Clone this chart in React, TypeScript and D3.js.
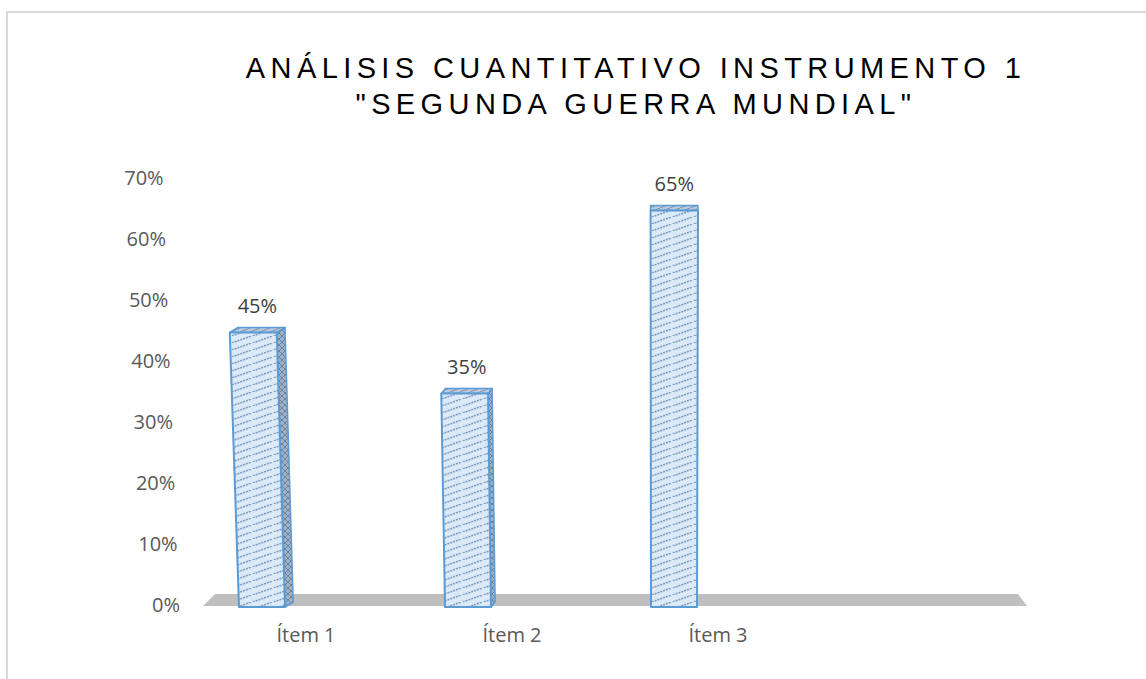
import React from "react";
import * as d3 from "d3";

const categories = ["Ítem 1", "Ítem 2", "Ítem 3", ""];
const values: (number | null)[] = [0.45, 0.35, 0.65, null];
const yTicks = [0, 0.1, 0.2, 0.3, 0.4, 0.5, 0.6, 0.7];
const titleLines = ["ANÁLISIS CUANTITATIVO INSTRUMENTO 1", "\"SEGUNDA GUERRA MUNDIAL\""];

const W = 1146;
const H = 679;
const baseY = 607;
// fake perspective of the 3D chart
const VX = 665;
const SKEW = 7.9e-5;
const warp = (x: number, y: number) => x + (x - VX) * SKEW * (baseY - y);

const App = () => {
  const x = d3.scaleBand<string>().domain(categories).range([203, 1027]);
  const y = d3.scaleLinear().domain([0, 0.7]).range([baseY, 180]);
  const fmt = d3.format(".0%");
  const barW = 46;
  const depthY = -5;

  const floorDepth = 12;
  const [fx0, fx1] = x.range();
  const floor = `M${fx0},${baseY - 1} L${fx1},${baseY - 1} L${fx1 - 9},${baseY - 1 - floorDepth} L${fx0 + 12},${baseY - 1 - floorDepth} Z`;

  const pts = (p: number[][]) => p.map(d => d.join(",")).join(" ");

  return (
    <svg width={W} height={H} style={{ position: "absolute", left: 0, top: 0 }} fontFamily="'Open Sans', sans-serif">
      <defs>
        <pattern id="hatch" width="21" height="7" patternUnits="userSpaceOnUse">
          <rect width="21" height="7" fill="#dce9f7" />
          <path d="M-2,8 L23,-1" stroke="#7b9cc6" strokeWidth="1.6" strokeDasharray="2 1" />
        </pattern>
        <pattern id="hatchDark" width="6" height="6" patternUnits="userSpaceOnUse">
          <rect width="6" height="6" fill="#9fb2c8" />
          <path d="M0,6 L6,0 M0,0 L6,6" stroke="#6f8196" strokeWidth="1" />
        </pattern>
        <pattern id="hatchTop" width="10" height="4" patternUnits="userSpaceOnUse">
          <rect width="10" height="4" fill="#b9c9dc" />
          <path d="M0,4 L10,0" stroke="#7f93aa" strokeWidth="1" />
        </pattern>
      </defs>
      <rect x={0} y={0} width={W} height={H} fill="#fff" />
      <rect x={7} y={12} width={W + 20} height={H + 20} fill="none" stroke="#d9d9d9" strokeWidth={2} />

      {titleLines.map((t, i) => (
        <text key={i} x={636} y={78 + i * 36} textAnchor="middle" fontFamily="'Liberation Sans', Arial, sans-serif"
          fontSize={29} letterSpacing={5.4} fill="#000">{t}</text>
      ))}

      {yTicks.map(t => (
        <text key={t} x={warp(180, y(t))} y={y(t)} textAnchor="end" dominantBaseline="middle" fontSize={20} fill="#595959">{fmt(t)}</text>
      ))}

      <path d={floor} fill="#bfbfbf" />

      {categories.map((c, i) => {
        const v = values[i];
        if (v == null) return null;
        const xc = (x(c) as number) + x.bandwidth() / 2;
        const l = xc - 67;
        const r = l + barW;
        const top = y(v);
        const dx = (673 - (l + r) / 2) * 0.02;
        const bl = [l, baseY], br = [r, baseY];
        const tl = [warp(l, top), top], tr = [warp(r, top), top];
        const side = [tr, br, [br[0] + dx, br[1] + depthY], [tr[0] + dx, tr[1] + depthY]];
        const topFace = [tl, tr, [tr[0] + dx, tr[1] + depthY], [tl[0] + dx, tl[1] + depthY]];
        return (
          <g key={c}>
            {dx > 0.5 && <polygon points={pts(side)} fill="url(#hatchDark)" stroke="#5b9bd5" strokeWidth={1.5} strokeLinejoin="round" />}
            <polygon points={pts(topFace)} fill="url(#hatchTop)" stroke="#5b9bd5" strokeWidth={1.5} strokeLinejoin="round" />
            <polygon points={pts([bl, br, tr, tl])} fill="url(#hatch)" stroke="#5b9bd5" strokeWidth={2} strokeLinejoin="round" />
            <text x={(tl[0] + tr[0]) / 2 + dx / 2} y={top - 25} textAnchor="middle" dominantBaseline="middle" fontSize={20} fill="#404040">{fmt(v)}</text>
          </g>
        );
      })}

      {categories.map(c => (
        <text key={c} x={(x(c) as number) + x.bandwidth() / 2} y={637} textAnchor="middle" dominantBaseline="middle" fontSize={20} fill="#595959">{c}</text>
      ))}
    </svg>
  );
};

export default App;
